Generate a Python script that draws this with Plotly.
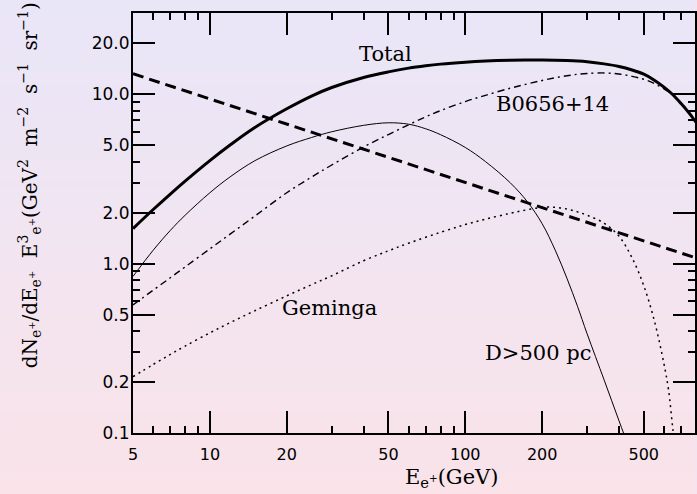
import base64, struct, zlib
import plotly.graph_objects as go

# ---------------- data ----------------
energy = [5, 6, 7, 8, 10, 12, 15, 20, 25, 30, 40, 50, 60, 70, 80, 100, 120, 150,
          175, 200, 225, 250, 275, 300, 350, 400, 450, 500, 550, 600, 650, 700, 750, 800]

total = [1.61, 2.086, 2.575, 3.07, 4.058, 5.013, 6.357, 8.2, 9.75, 10.95, 12.55, 13.55,
         14.25, 14.72, 15.05, 15.45, 15.68, 15.85, 15.9, 15.9, 15.87, 15.8, 15.7, 15.55,
         15.1, 14.58, 13.9, 13.12, 12.1, 11.0, 9.92, 8.8, 7.78, 6.84]

b0656 = [0.57, 0.697, 0.825, 0.956, 1.222, 1.493, 1.908, 2.62, 3.24, 3.82, 4.88, 5.78,
         6.6, 7.35, 8.0, 9.05, 9.85, 10.85, 11.5, 12.05, 12.5, 12.85, 13.1, 13.25, 13.35,
         13.15, 12.75, 12.25, 11.55, 10.75, 9.9, 8.9, 7.9, 6.9]

near_energy = [5, 6, 7, 8, 10, 12, 15, 20, 25, 30, 40, 50, 60, 70, 80, 100, 120, 150,
               175, 200, 225, 250, 275, 300, 350, 400, 450]
near = [0.84, 1.2, 1.57, 1.93, 2.62, 3.25, 4.05, 4.95, 5.55, 6.0, 6.55, 6.78, 6.65, 6.25,
        5.77, 4.85, 4.0, 3.0, 2.32, 1.72, 1.2, 0.82, 0.56, 0.385, 0.205, 0.118, 0.073]

geminga_energy = [5, 6, 7, 8, 10, 12, 15, 20, 25, 30, 40, 50, 60, 80, 100, 120, 150, 175,
                  200, 225, 250, 275, 300, 350, 400, 450, 500, 550, 600, 625, 650, 675]
geminga = [0.215, 0.254, 0.291, 0.326, 0.39, 0.448, 0.527, 0.645, 0.751, 0.847, 1.04,
           1.19, 1.32, 1.53, 1.70, 1.83, 1.98, 2.08, 2.15, 2.15, 2.1, 2.02, 1.93, 1.73,
           1.45, 1.08, 0.74, 0.46, 0.255, 0.18, 0.105, 0.065]

bg_energy = [5, 800]
background = [13.2, 1.08]

x_major = [5, 10, 20, 50, 100, 200, 500]
x_major_text = ["5", "10", "20", "50", "100", "200", "500"]
x_minor = [6, 7, 8, 9, 30, 40, 60, 70, 80, 90, 300, 400, 600, 700]
y_major = [0.1, 0.2, 0.5, 1, 2, 5, 10, 20]
y_major_text = ["0.1", "0.2", "0.5", "1.0", "2.0", "5.0", "10.0", "20.0"]
y_minor = [0.3, 0.4, 0.6, 0.7, 0.8, 0.9, 3, 4, 6, 7, 8, 9]

labels = ["Total", "B0656+14", "Geminga", "D>500 pc"]

# ---------------- layout geometry ----------------
W, H = 697, 494
L, R, T, B = 133, 0, 13, 61
PW, PH = W - L - R, H - T - B


def px(x, y):
    return (x - L) / PW, (H - B - y) / PH


def gradient_png(h, top, bot):
    rows = b""
    for i in range(h):
        t = i / (h - 1)
        rows += b"\x00" + bytes(round(top[k] + (bot[k] - top[k]) * t) for k in range(3))

    def chunk(tag, data):
        return (struct.pack(">I", len(data)) + tag + data +
                struct.pack(">I", zlib.crc32(tag + data) & 0xffffffff))

    png = (b"\x89PNG\r\n\x1a\n" +
           chunk(b"IHDR", struct.pack(">IIBBBBB", 1, h, 8, 2, 0, 0, 0)) +
           chunk(b"IDAT", zlib.compress(rows)) + chunk(b"IEND", b""))
    return "data:image/png;base64," + base64.b64encode(png).decode()


def line(width, dash="solid", spline=True):
    d = dict(color="black", width=width, dash=dash, simplify=False)
    if spline:
        d.update(shape="spline", smoothing=1.0)
    return d


fig = go.Figure()
fig.add_trace(go.Scatter(x=geminga_energy, y=geminga, mode="lines", line=line(1.5, "2px,4px")))
fig.add_trace(go.Scatter(x=energy, y=b0656, mode="lines", line=line(1.4, "7px,4px,2px,4px")))
fig.add_trace(go.Scatter(x=near_energy, y=near, mode="lines", line=line(1)))
fig.add_trace(go.Scatter(x=bg_energy, y=background, mode="lines", line=line(3, "11px,6px", False)))
fig.add_trace(go.Scatter(x=energy, y=total, mode="lines", line=line(3)))

axis_common = dict(type="log", showgrid=False, zeroline=False, showline=True,
                   linecolor="black", linewidth=2, ticks="inside", ticklen=22,
                   tickwidth=2, tickcolor="black", mirror="allticks", tickmode="array")

fig.update_xaxes(**axis_common, range=[0.69897, 0.69897 + PW / 256.3],
                 tickvals=x_major, ticktext=x_major_text, ticklabelstandoff=6,
                 tickfont=dict(family="DejaVu Sans", size=16, color="black"),
                 minor=dict(tickmode="array", tickvals=x_minor, ticks="inside",
                            ticklen=7, tickwidth=2, tickcolor="black"))
fig.update_yaxes(**axis_common, range=[-1, -1 + PH / 169.4],
                 tickvals=y_major, ticktext=y_major_text, ticklabelstandoff=-2,
                 tickfont=dict(family="DejaVu Sans", size=17, color="black"),
                 minor=dict(tickmode="array", tickvals=y_minor, ticks="inside",
                            ticklen=7, tickwidth=2, tickcolor="black"))

serif = dict(family="DejaVu Serif", size=21, color="black")
ann = []
for text, (cx, cy) in zip(labels, [(386, 54), (554, 104), (330, 308), (539, 353)]):
    ax, ay = px(cx, cy)
    ann.append(dict(text=text, x=ax, y=ay, xref="paper", yref="paper", showarrow=False,
                    xanchor="center", yanchor="middle", font=serif))
sp = "\u00a0"
ax, ay = px(453, 478)
ann.append(dict(text="E<sub>e<sup>+</sup></sub>(GeV)", x=ax, y=ay, xref="paper", yref="paper",
                showarrow=False, xanchor="center", yanchor="middle", font=serif))
ax, ay = px(29, 185)
ann.append(dict(text=("dN<sub>e<sup>+</sup></sub>/dE<sub>e<sup>+</sup></sub>" + sp * 2 +
                      "E<sup>3</sup><sub>e<sup>+</sup></sub>(GeV<sup>2</sup>" + sp * 2 +
                      "m<sup>\u22122</sup>" + sp * 2 + "s<sup>\u22121</sup>" + sp * 2 +
                      "sr<sup>\u22121</sup>)"),
                x=ax, y=ay, xref="paper", yref="paper", showarrow=False, textangle=-90,
                xanchor="center", yanchor="middle",
                font=dict(family="DejaVu Serif", size=20, color="black")))

bx0, by1 = px(0, 0)
fig.update_layout(
    width=W, height=H, margin=dict(l=L, r=R, t=T, b=B, pad=0),
    showlegend=False, paper_bgcolor="#f3e4f0", plot_bgcolor="rgba(0,0,0,0)",
    annotations=ann,
    images=[dict(source=gradient_png(H, (233, 230, 248), (250, 227, 233)),
                 xref="paper", yref="paper", x=bx0, y=by1, sizex=W / PW, sizey=H / PH,
                 xanchor="left", yanchor="top", sizing="stretch", layer="below")],
)

fig.write_html("out.html")
